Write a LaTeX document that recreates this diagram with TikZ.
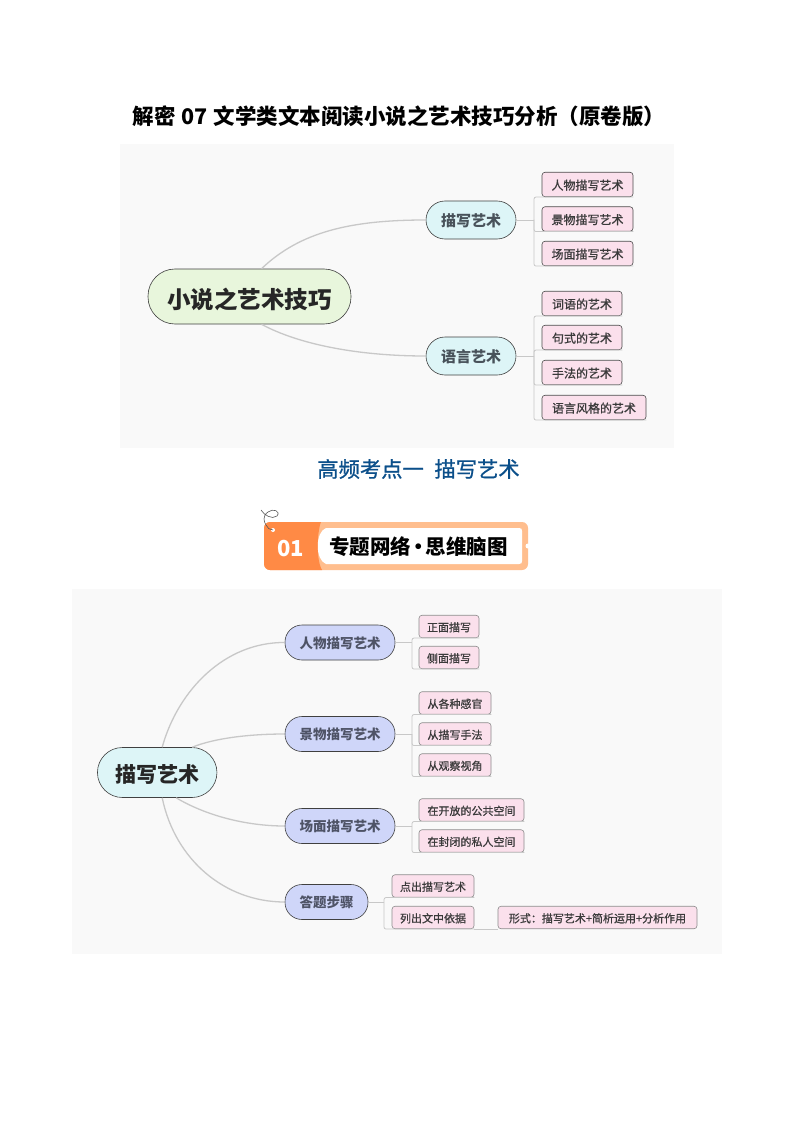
\documentclass[tikz,border=0pt]{standalone}
\usepackage{fontspec}
\setmainfont{Noto Sans CJK SC}
\newfontfamily\medfont[FakeBold=0.8]{Noto Sans CJK SC}
\definecolor{panelgray}{HTML}{F9F9F9}
\definecolor{rootgreen}{HTML}{E8F6DC}
\definecolor{branchcyan}{HTML}{DDF5F7}
\definecolor{branchblue}{HTML}{CFD6F9}
\definecolor{leafpink}{HTML}{FBE0EC}
\definecolor{linegray}{HTML}{C8C8C8}
\definecolor{inkgray}{HTML}{3A3A3A}
\definecolor{inkteal}{HTML}{48525A}
\definecolor{inkblue}{HTML}{4E5366}
\definecolor{headblue}{HTML}{0B4F8A}
\definecolor{bannerdark}{HTML}{FF8A45}
\definecolor{bannerlight}{HTML}{FFBE8E}
\tikzset{
  pill/.style={draw=black!75, line width=.6pt, rounded corners=#1, inner sep=0pt, text=inkgray, text depth=0pt},
  leafbox/.style={draw=black!70, line width=.6pt, fill=leafpink, rounded corners=3pt, inner sep=0pt,
    minimum height=24.5pt, text=inkgray, text height=10.5pt, text depth=0pt, font=\fontsize{12}{12}\medfont},
  smallleaf/.style={leafbox, draw=black!45, minimum height=22.5pt, text height=10pt, font=\fontsize{11}{11}\medfont},
  midbranch/.style={pill=17pt, fill=branchblue, minimum height=35pt, text=inkblue, text height=11.2pt, font=\fontsize{13.5}{14}\selectfont\bfseries},
  topbranch/.style={pill=19pt, fill=branchcyan, minimum width=90pt, minimum height=38pt, text=inkteal, text height=12.4pt, font=\fontsize{15}{15}\selectfont\bfseries},
  curveline/.style={draw=linegray, line width=1.3pt},
  treeline/.style={draw=linegray, line width=.8pt, rounded corners=2pt},
}
\begin{document}
\begin{tikzpicture}[x=1pt, y=-1pt]
  \useasboundingbox[fill=white] (0,0) rectangle (794,1123);

  \node[font=\fontsize{21.5}{22}\selectfont\bfseries, text=black] (title) at (399,116) {解密\hspace{6pt}07\hspace{6pt}文学类文本阅读小说之艺术技巧分析（原卷版）};

  % upper map
  \fill[panelgray] (120,144) rectangle (674,448);
  \node[pill=27pt, fill=rootgreen, minimum width=203pt, minimum height=55pt, text height=23.8pt, font=\fontsize{23.5}{24}\selectfont\bfseries, text=black!85] (art) at (249.5,296.5) {小说之艺术技巧};
  \node[topbranch] (desc) at (471,220) {描写艺术};
  \node[topbranch] (lang) at (471,356) {语言艺术};

  \node[leafbox, minimum width=91pt] (figure) at (587.5,184.5) {人物描写艺术};
  \node[leafbox, minimum width=91pt] (scenery) at (587.5,219) {景物描写艺术};
  \node[leafbox, minimum width=91pt] (scene) at (587.5,253.5) {场面描写艺术};
  \node[leafbox, minimum width=80pt] (word) at (582,303.5) {词语的艺术};
  \node[leafbox, minimum width=80pt] (sentence) at (582,337.5) {句式的艺术};
  \node[leafbox, minimum width=80pt] (method) at (582,372.5) {手法的艺术};
  \node[leafbox, minimum width=104pt] (style) at (594,407.5) {语言风格的艺术};

  \draw[curveline] ([xshift=12pt]art.north) .. controls (300,232) and (350,220) .. (desc.west);
  \draw[curveline] ([xshift=12pt]art.south) .. controls (300,345) and (360,356) .. (lang.west);

  \coordinate (descfork) at (534,220);
  \coordinate (langfork) at (534,356);
  \draw[treeline] (desc.east) -- (descfork);
  \draw[treeline] (lang.east) -- (langfork);
  \foreach \leaf in {figure,scenery,scene}
    \draw[treeline] (descfork) -- (descfork |- \leaf.south) -- (\leaf.south west) -- (\leaf.south east);
  \foreach \leaf in {word,sentence,method,style}
    \draw[treeline] (langfork) -- (langfork |- \leaf.south) -- (\leaf.south west) -- (\leaf.south east);

  \node[font=\fontsize{21.3}{22}\medfont, text=headblue] (point) at (418.5,469) {高频考点一\hspace{.5em}描写艺术};

  % banner
  \fill[bannerlight, rounded corners=6pt] (264,522) rectangle (528,570);
  \begin{scope}
    \clip[rounded corners=6pt] (264,522) rectangle (528,570);
    \fill[bannerdark] (264,522) -- (321,522) .. controls (317,532) and (316,560) .. (322,570) -- (264,570) -- cycle;
  \end{scope}
  \fill[white] (326,528) -- (519,528) .. controls (521.5,528) and (522,529) .. (522,531) -- (522,561)
    .. controls (522,563) and (521.5,564) .. (519,564) -- (326,564) .. controls (315,560) and (315,532) .. (326,528) -- cycle;
  \fill[white] (528,546) circle (2.5pt);
  \fill[white] (273,530) circle (2pt);
  \draw[black!65, line width=.6pt] (261,510) .. controls (264,515) and (272,520) .. (277,516)
    .. controls (281,511) and (273,508) .. (268,512) .. controls (262,516) and (264,522) .. (266,525) .. controls (267,528) and (270,530) .. (273,530);
  \node[font=\fontsize{22}{22}\selectfont\bfseries, text=white, text height=16.8pt, text depth=0pt] (num) at (290.5,548) {01};
  \node[font=\fontsize{20.5}{21}\selectfont\bfseries, text=black, text height=15.6pt, text depth=0pt] (net) at (418.5,547) {专题网络\hspace{-.15em}•\hspace{-.15em}思维脑图};

  % lower map
  \fill[panelgray] (72,589) rectangle (722,954);
  \node[pill=25pt, fill=branchcyan, minimum width=119.5pt, minimum height=50pt, text height=19pt, font=\fontsize{21}{21}\selectfont\bfseries, text=black!85] (root) at (157.2,772.5) {描写艺术};
  \node[midbranch, minimum width=110pt] (person) at (340,642.5) {人物描写艺术};
  \node[midbranch, minimum width=110pt] (view) at (340,734) {景物描写艺术};
  \node[midbranch, minimum width=110pt] (place) at (340,826) {场面描写艺术};
  \node[midbranch, minimum width=83pt] (steps) at (326.5,902) {答题步骤};

  \node[smallleaf, minimum width=60pt] (front) at (449,626.5) {正面描写};
  \node[smallleaf, minimum width=60pt] (side) at (449,657.5) {侧面描写};
  \node[smallleaf, minimum width=72pt] (senses) at (455,703) {从各种感官};
  \node[smallleaf, minimum width=72pt] (means) at (455,734) {从描写手法};
  \node[smallleaf, minimum width=72pt] (angle) at (455,765) {从观察视角};
  \node[smallleaf, minimum width=105pt] (open) at (471.5,810) {在开放的公共空间};
  \node[smallleaf, minimum width=105pt] (closed) at (471.5,841) {在封闭的私人空间};
  \node[smallleaf, minimum width=82pt] (name) at (433,886) {点出描写艺术};
  \node[smallleaf, minimum width=82pt] (list) at (433,917.5) {列出文中依据};
  \node[smallleaf, minimum width=199pt] (form) at (597.5,917.5) {形式：描写艺术+简析运用+分析作用};

  \draw[curveline] ([xshift=5pt]root.north) .. controls (178,690) and (225,642) .. (person.west);
  \draw[curveline] ([xshift=35pt]root.north) .. controls (215,738) and (250,734) .. (view.west);
  \draw[curveline] ([xshift=19pt]root.south) .. controls (205,815) and (245,826) .. (place.west);
  \draw[curveline] ([xshift=5pt]root.south) .. controls (175,860) and (225,902) .. (steps.west);

  \coordinate (personfork) at (412,642.5);
  \coordinate (viewfork) at (412,734);
  \coordinate (placefork) at (412,826);
  \coordinate (stepsfork) at (384,902);
  \draw[treeline] (person.east) -- (personfork);
  \draw[treeline] (view.east) -- (viewfork);
  \draw[treeline] (place.east) -- (placefork);
  \draw[treeline] (steps.east) -- (stepsfork);
  \foreach \leaf in {front,side}
    \draw[treeline] (personfork) -- (personfork |- \leaf.south) -- (\leaf.south west) -- (\leaf.south east);
  \foreach \leaf in {senses,means,angle}
    \draw[treeline] (viewfork) -- (viewfork |- \leaf.south) -- (\leaf.south west) -- (\leaf.south east);
  \foreach \leaf in {open,closed}
    \draw[treeline] (placefork) -- (placefork |- \leaf.south) -- (\leaf.south west) -- (\leaf.south east);
  \foreach \leaf in {name,list}
    \draw[treeline] (stepsfork) -- (stepsfork |- \leaf.south) -- (\leaf.south west) -- (\leaf.south east);
  \draw[treeline] (list.south east) -- (form.south west);
\end{tikzpicture}
\end{document}
